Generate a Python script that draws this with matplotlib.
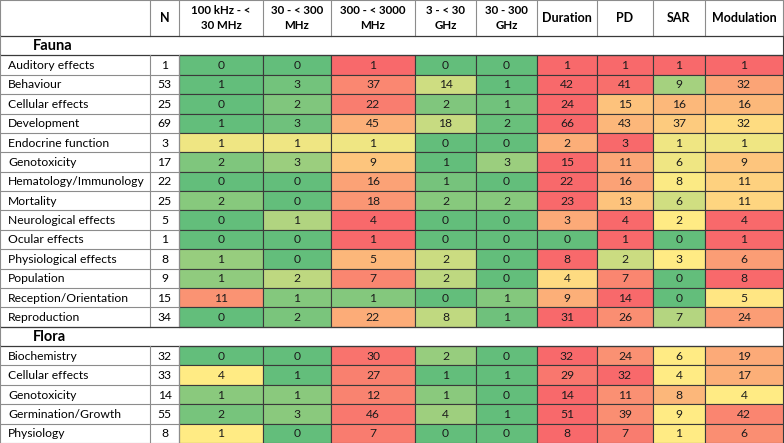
import matplotlib
matplotlib.use("Agg")
import matplotlib.pyplot as plt
from matplotlib.patches import Rectangle
import numpy as np

plt.rcParams["font.family"] = ["Lato", "DejaVu Sans"]

headers = ["N", "100 kHz - <\n30 MHz", "30 - < 300\nMHz", "300 - < 3000\nMHz",
           "3 - < 30\nGHz", "30 - 300\nGHz", "Duration", "PD", "SAR", "Modulation"]

fauna_labels = ["Auditory effects", "Behaviour", "Cellular effects", "Development",
                "Endocrine function", "Genotoxicity", "Hematology/Immunology", "Mortality",
                "Neurological effects", "Ocular effects", "Physiological effects",
                "Population", "Reception/Orientation", "Reproduction"]
fauna_n = [1, 53, 25, 69, 3, 17, 22, 25, 5, 1, 8, 9, 15, 34]
fauna_values = [
    [0, 0, 1, 0, 0, 1, 1, 1, 1],
    [1, 3, 37, 14, 1, 42, 41, 9, 32],
    [0, 2, 22, 2, 1, 24, 15, 16, 16],
    [1, 3, 45, 18, 2, 66, 43, 37, 32],
    [1, 1, 1, 0, 0, 2, 3, 1, 1],
    [2, 3, 9, 1, 3, 15, 11, 6, 9],
    [0, 0, 16, 1, 0, 22, 16, 8, 11],
    [2, 0, 18, 2, 2, 23, 13, 6, 11],
    [0, 1, 4, 0, 0, 3, 4, 2, 4],
    [0, 0, 1, 0, 0, 0, 1, 0, 1],
    [1, 0, 5, 2, 0, 8, 2, 3, 6],
    [1, 2, 7, 2, 0, 4, 7, 0, 8],
    [11, 1, 1, 0, 1, 9, 14, 0, 5],
    [0, 2, 22, 8, 1, 31, 26, 7, 24],
]

flora_labels = ["Biochemistry", "Cellular effects", "Genotoxicity", "Germination/Growth", "Physiology"]
flora_n = [32, 33, 14, 55, 8]
flora_values = [
    [0, 0, 30, 2, 0, 32, 24, 6, 19],
    [4, 1, 27, 1, 1, 29, 32, 4, 17],
    [1, 1, 12, 1, 0, 14, 11, 8, 4],
    [2, 3, 46, 4, 1, 51, 39, 9, 42],
    [1, 0, 7, 0, 0, 8, 7, 1, 6],
]

# excel-like 3 colour scale, applied per row
GREEN = np.array([99, 190, 123]) / 255
YELLOW = np.array([255, 235, 132]) / 255
RED = np.array([248, 105, 107]) / 255


def scale_color(v, lo, mid, hi):
    if v <= mid:
        t = 0.0 if mid == lo else (v - lo) / (mid - lo)
        return GREEN + (YELLOW - GREEN) * t
    t = 0.0 if hi == mid else (v - mid) / (hi - mid)
    return YELLOW + (RED - YELLOW) * t


# column edges / row geometry in pixels
col_edges = [0, 150, 179, 263, 331, 415, 476, 537, 597, 653, 705, 783]
header_h = 36
row_h = 19.38
W, H = 784, 443

fig = plt.figure(figsize=(W / 100, H / 100), dpi=100)
ax = fig.add_axes([0, 0, 1, 1])
ax.set_xlim(0, W)
ax.set_ylim(H, 0)
ax.axis("off")

LINE = "#3a3a3a"
GRID = "#8c8c8c"
FS = 8.7

# header
for j, h in enumerate(headers):
    x0, x1 = col_edges[j + 1], col_edges[j + 2]
    ax.text((x0 + x1) / 2, header_h / 2, h, ha="center", va="center",
            fontsize=8.3 if "\n" in h else 9, fontweight="bold", linespacing=1.35)
for x in col_edges:
    ax.plot([x, x], [0, header_h], color=GRID, lw=0.8)
ax.plot([0, col_edges[-1]], [0, 0], color=GRID, lw=0.8)

y = header_h
groups = [("Fauna", fauna_labels, fauna_n, fauna_values, np.mean),
          ("Flora", flora_labels, flora_n, flora_values, np.median)]
for name, labels, ns, values, mid_fn in groups:
    # section row
    ax.plot([0, col_edges[-1]], [y, y], color=LINE, lw=0.9)
    ax.text(33, y + row_h / 2 + 0.5, name, ha="left", va="center",
            fontsize=10.5, fontweight="bold")
    ax.plot([0, 0], [y, y + row_h], color=GRID, lw=0.8)
    ax.plot([col_edges[-1]] * 2, [y, y + row_h], color=LINE, lw=0.8)
    y += row_h
    ax.plot([0, col_edges[-1]], [y, y], color=LINE, lw=0.9)
    for lab, n, vals in zip(labels, ns, values):
        vals = np.asarray(vals, dtype=float)
        lo, hi, mid = vals.min(), vals.max(), mid_fn(vals)
        ax.text(8, y + row_h / 2 + 0.5, lab, ha="left", va="center", fontsize=FS)
        ax.text((col_edges[1] + col_edges[2]) / 2, y + row_h / 2 + 0.5, str(n),
                ha="center", va="center", fontsize=FS)
        for j, v in enumerate(vals):
            x0, x1 = col_edges[j + 2], col_edges[j + 3]
            ax.add_patch(Rectangle((x0, y), x1 - x0, row_h,
                                   facecolor=scale_color(v, lo, mid, hi),
                                   edgecolor=LINE, lw=0.8))
            ax.text((x0 + x1) / 2, y + row_h / 2 + 0.5, str(int(v)), ha="center",
                    va="center", fontsize=FS, color="#1c1c1c")
        for x in col_edges[:3]:
            ax.plot([x, x], [y, y + row_h], color=GRID, lw=0.8)
        ax.plot([0, col_edges[2]], [y + row_h, y + row_h], color=GRID, lw=0.8)
        y += row_h

fig.savefig("out.png", dpi=100)
